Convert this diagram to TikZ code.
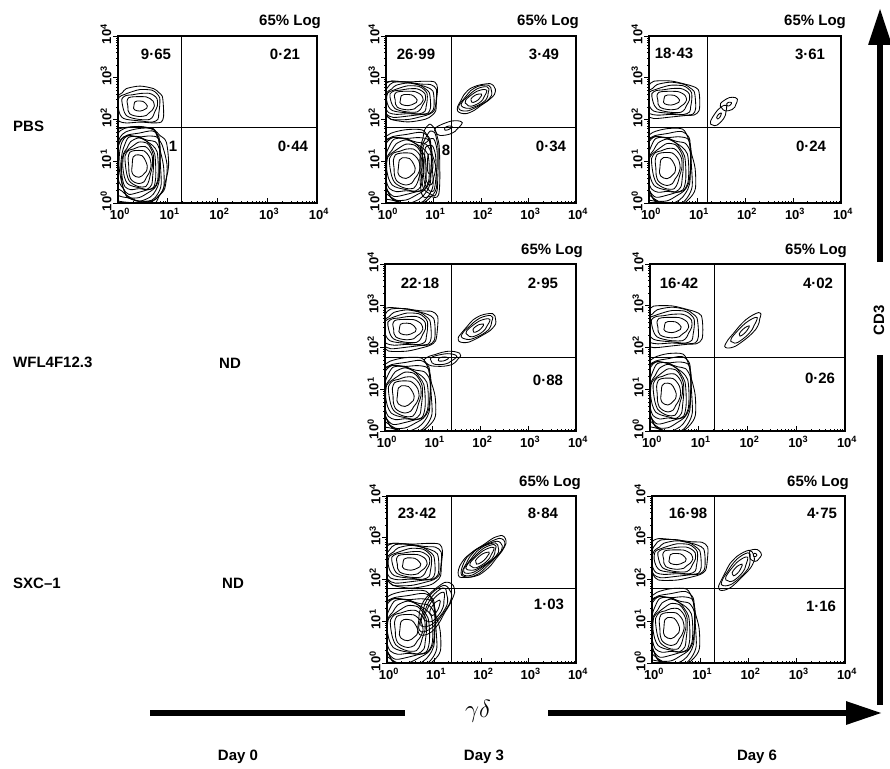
\documentclass[tikz,border=0pt]{standalone}
\usepackage{fontspec}
\setmainfont{Liberation Sans}
\usetikzlibrary{arrows.meta,positioning}

% nested contour loops: cx, cy, rx, ry, levels, angle, boxiness
\newcommand{\popcloud}[7]{%
  \begin{scope}[rotate around={#6:(#1,#2)}]
    \foreach \k in {1,...,#5}{
      \pgfmathsetmacro{\s}{0.28+0.72*((\k-1)/(#5-1))^0.7}
      \pgfmathsetmacro{\p}{1-(1-#7)*\s}
      \draw[contour] plot[smooth cycle, domain=0:337.5, samples=16, variable=\t]
        ({#1+\s*#3*(1+0.07*sin(3*\t+70*\k)+0.04*sin(5*\t+40*\k))*sign(cos(\t))*pow(abs(cos(\t)),\p)},
         {#2+\s*#4*(1+0.07*sin(3*\t+70*\k)+0.04*sin(5*\t+40*\k))*sign(sin(\t))*pow(abs(sin(\t)),\p)});
    }
  \end{scope}}

% one plot frame: name, x, y, width, quadrant x, quadrant y
\newcommand{\facspanel}[6]{%
  \begin{scope}[shift={(#2,#3)}]
    \draw[frame] (0,0) rectangle (#4,167);
    \draw[quad] (#5,0) -- (#5,167) (0,#6) -- (#4,#6);
    \foreach \d in {0,...,3}{
      \foreach \m in {2,...,9}{
        \draw[tickmark] ({(\d+log10(\m))*#4/4},167) -- ++(0,-2.5);
        \draw[tickmark] (0,{167-(\d+log10(\m))*167/4}) -- ++(-2.5,0);
      }
    }
    \foreach \d in {0,...,4}{
      \draw[tickmark] ({\d*#4/4},167) -- ++(0,-5);
      \draw[tickmark] (0,{167-\d*167/4}) -- ++(-5,0);
      \node[ticklab] (#1-x\d) at ({\d*#4/4+2},178) {10\textsuperscript{\d}};
      \node[ticklab, rotate=90] (#1-y\d) at (-12,{167-\d*167/4-2}) {10\textsuperscript{\d}};
    }
  \end{scope}}

\begin{document}
\begin{tikzpicture}[x=1pt,y=-1pt,
  contour/.style={line width=0.85pt},
  frame/.style={line width=1.1pt},
  quad/.style={line width=0.9pt},
  tickmark/.style={line width=0.6pt},
  ticklab/.style={font=\fontsize{13}{14}\selectfont\bfseries, inner sep=0pt},
  lab/.style={font=\fontsize{15}{17}\selectfont\bfseries, inner sep=0pt},
  bigarrow/.style={line width=6pt}]

  \fill[white] (0,0) rectangle (890,768);
  \useasboundingbox (0,0) rectangle (890,768);

  % frames
  \facspanel{pbsa}{118}{36}{199}{63}{91}
  \facspanel{pbsb}{386}{36}{190}{65}{91}
  \facspanel{pbsc}{649}{36}{192}{58}{91}
  \facspanel{wfla}{385}{264}{191}{66}{93}
  \facspanel{wflb}{650}{264}{195}{64}{93}
  \facspanel{sxca}{387}{496}{189}{64}{92}
  \facspanel{sxcb}{652}{496}{193}{62}{92}

  % contours
  \begin{scope}[shift={(118,36)}]
    \clip (0,0) rectangle (199,167);
    \popcloud{21}{130}{27}{40}{12}{0}{0.6}
    \popcloud{22}{70}{24}{18}{5}{0}{0.6}
  \end{scope}
  \begin{scope}[shift={(386,36)}]
    \clip (0,0) rectangle (190,167);
    \popcloud{20}{132}{30}{37}{10}{0}{0.7}
    \popcloud{22}{64}{30}{20}{8}{0}{0.6}
    \popcloud{44}{128}{10}{36}{5}{0}{0.7}
    \popcloud{62}{92}{14}{6}{2}{20}{1}
    \popcloud{90}{62}{22}{10}{5}{35}{1}
  \end{scope}
  \begin{scope}[shift={(649,36)}]
    \clip (0,0) rectangle (192,167);
    \popcloud{22}{64}{28}{18}{6}{0}{0.6}
    \popcloud{18}{132}{28}{38}{10}{0}{0.7}
    \popcloud{80}{68}{9}{6}{2}{30}{1}
    \popcloud{70}{80}{12}{5}{2}{55}{1}
  \end{scope}
  \begin{scope}[shift={(385,264)}]
    \clip (0,0) rectangle (191,167);
    \popcloud{22}{65}{30}{21}{7}{0}{0.6}
    \popcloud{20}{132}{30}{37}{10}{0}{0.7}
    \popcloud{58}{95}{18}{7}{3}{10}{1}
    \popcloud{93}{64}{22}{9}{4}{35}{1}
  \end{scope}
  \begin{scope}[shift={(650,264)}]
    \clip (0,0) rectangle (195,167);
    \popcloud{22}{63}{30}{20}{6}{0}{0.6}
    \popcloud{18}{130}{27}{39}{10}{0}{0.7}
    \popcloud{94}{67}{24}{7}{3}{45}{1}
  \end{scope}
  \begin{scope}[shift={(387,496)}]
    \clip (0,0) rectangle (189,167);
    \popcloud{24}{68}{32}{22}{8}{0}{0.6}
    \popcloud{21}{134}{32}{38}{10}{0}{0.7}
    \popcloud{48}{112}{30}{12}{5}{60}{1}
    \popcloud{95}{62}{30}{11}{7}{40}{1}
  \end{scope}
  \begin{scope}[shift={(652,496)}]
    \clip (0,0) rectangle (193,167);
    \popcloud{25}{63}{30}{20}{7}{0}{0.6}
    \popcloud{19}{132}{28}{38}{10}{0}{0.7}
    \popcloud{85}{74}{25}{9}{4}{50}{1}
    \popcloud{103}{59}{6}{6}{2}{0}{1}
  \end{scope}

  % headers
  \node[lab] (hpbsa) at (290,22) {65\% Log};
  \node[lab] (hpbsb) at (548,22) {65\% Log};
  \node[lab] (hpbsc) at (815,22) {65\% Log};
  \node[lab] (hwfla) at (552,251) {65\% Log};
  \node[lab] (hwflb) at (816,251) {65\% Log};
  \node[lab] (hsxca) at (550,483) {65\% Log};
  \node[lab] (hsxcb) at (818,483) {65\% Log};

  % quadrant values
  \node[lab] (qpbsa1) at (156,54) {9·65};
  \node[lab] (qpbsa2) at (285,54) {0·21};
  \node[lab] (qpbsa3) at (173,146) {1};
  \node[lab] (qpbsa4) at (293,146) {0·44};
  \node[lab] (qpbsb1) at (416,54) {26·99};
  \node[lab] (qpbsb2) at (544,54) {3·49};
  \node[lab] (qpbsb3) at (446,150) {8};
  \node[lab] (qpbsb4) at (551,146) {0·34};
  \node[lab] (qpbsc1) at (674,53) {18·43};
  \node[lab] (qpbsc2) at (810,54) {3·61};
  \node[lab] (qpbsc4) at (811,146) {0·24};
  \node[lab] (qwfla1) at (420,283) {22·18};
  \node[lab] (qwfla2) at (543,283) {2·95};
  \node[lab] (qwfla4) at (548,380) {0·88};
  \node[lab] (qwflb1) at (679,283) {16·42};
  \node[lab] (qwflb2) at (818,283) {4·02};
  \node[lab] (qwflb4) at (820,378) {0·26};
  \node[lab] (qsxca1) at (417,513) {23·42};
  \node[lab] (qsxca2) at (543,513) {8·84};
  \node[lab] (qsxca4) at (549,604) {1·03};
  \node[lab] (qsxcb1) at (688,513) {16·98};
  \node[lab] (qsxcb2) at (822,513) {4·75};
  \node[lab] (qsxcb4) at (821,606) {1·16};

  % rows and days
  \node[lab, anchor=west] (pbs) at (13,126) {PBS};
  \node[lab, anchor=west] (wfl) at (13,362) {WFL4F12.3};
  \node[lab, anchor=west] (sxc) at (13,583) {SXC–1};
  \node[lab] (ndwfl) at (230,363) {ND};
  \node[lab] (ndsxc) at (233,583) {ND};
  \node[lab] (day0) at (238,757) {Day 0};
  \node[lab] (day3) at (484,757) {Day 3};
  \node[lab] (day6) at (757,757) {Day 6};

  % axes
  \node[font=\fontsize{27}{28}\selectfont, inner sep=0pt] (gd) at (478,711) {$\gamma\delta$};
  \node[lab, rotate=90] (cd) at (879,320) {CD3};
  \coordinate (gdl) at (150,713);
  \coordinate (gdm) at (405,713);
  \coordinate (gdr) at (548,713);
  \coordinate (gdtip) at (882,713);
  \coordinate (cdb) at (880,705);
  \coordinate (cdm) at (880,355);
  \coordinate (cdn) at (880,262);
  \coordinate (cdtip) at (880,8);
  \draw[bigarrow] (gdl) -- (gdm);
  \draw[bigarrow, -{Triangle[length=36pt,width=22pt]}] (gdr) -- (gdtip);
  \draw[bigarrow] (cdb) -- (cdm);
  \draw[bigarrow, -{Triangle[length=37pt,width=22pt]}] (cdn) -- (cdtip);

\end{tikzpicture}
\end{document}
